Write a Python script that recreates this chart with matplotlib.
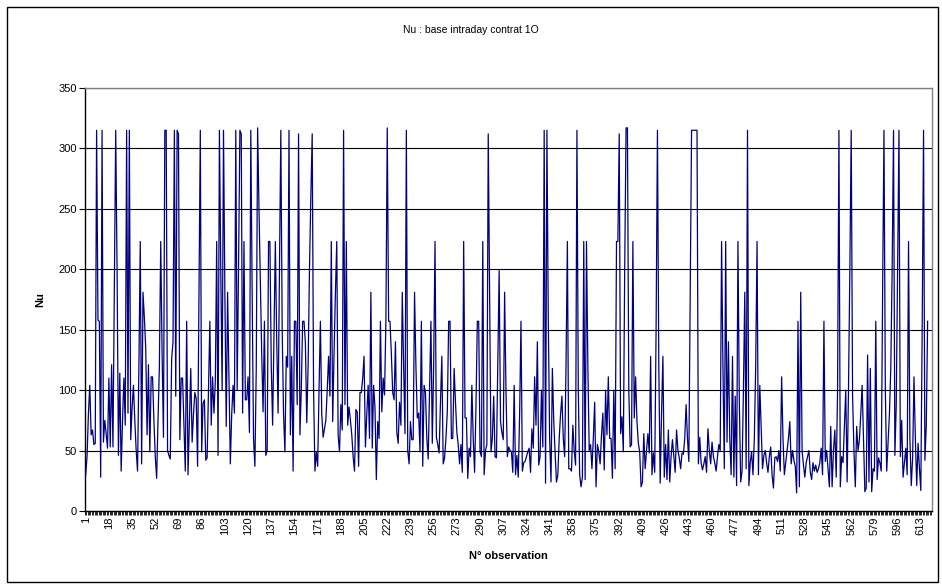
import matplotlib
matplotlib.use("Agg")
import matplotlib.pyplot as plt
import matplotlib.patches as patches
from matplotlib.ticker import FixedLocator

plt.rcParams['font.family'] = ['Liberation Sans', 'DejaVu Sans']

title = "Nu : base intraday contrat 1O"
x_label = "N° observation"
y_label = "Nu"

nu_values = [
    30, 45, 80, 104, 63, 67, 55, 56, 315, 158,
    157, 28, 315, 57, 75, 64, 52, 110, 53, 121,
    53, 180, 315, 200, 46, 114, 33, 75, 110, 71,
    315, 81, 315, 59, 85, 104, 75, 50, 33, 120,
    223, 39, 181, 160, 135, 63, 121, 49, 111, 111,
    75, 45, 27, 75, 119, 223, 130, 61, 315, 315,
    50, 46, 43, 126, 140, 315, 95, 315, 312, 59,
    110, 110, 70, 33, 157, 30, 75, 118, 57, 80,
    98, 93, 37, 180, 315, 49, 89, 92, 42, 44,
    100, 157, 71, 111, 81, 107, 223, 46, 315, 200,
    100, 315, 180, 70, 181, 110, 39, 80, 104, 81,
    315, 100, 200, 315, 312, 81, 223, 92, 92, 111,
    65, 315, 180, 60, 37, 118, 317, 250, 190, 130,
    82, 157, 46, 50, 223, 223, 120, 71, 150, 223,
    140, 81, 200, 315, 150, 80, 49, 128, 119, 315,
    63, 128, 33, 157, 157, 88, 312, 63, 100, 157,
    157, 139, 73, 120, 200, 260, 312, 100, 33, 49,
    37, 100, 157, 80, 61, 68, 75, 100, 128, 95,
    223, 74, 130, 180, 223, 63, 49, 88, 67, 315,
    88, 223, 71, 86, 75, 63, 45, 33, 84, 82,
    37, 98, 98, 110, 128, 53, 80, 104, 60, 181,
    52, 104, 86, 26, 74, 60, 157, 82, 110, 96,
    157, 317, 157, 157, 130, 98, 92, 140, 65, 56,
    90, 71, 181, 120, 64, 315, 50, 39, 74, 59,
    59, 181, 120, 77, 81, 49, 157, 37, 104, 98,
    60, 43, 100, 157, 56, 120, 223, 61, 55, 48,
    90, 128, 39, 44, 60, 82, 157, 157, 60, 60,
    118, 90, 65, 55, 39, 55, 32, 223, 77, 77,
    27, 52, 45, 104, 60, 32, 86, 157, 157, 49,
    45, 223, 30, 50, 55, 312, 180, 49, 60, 95,
    45, 44, 120, 199, 74, 65, 59, 181, 100, 45,
    53, 50, 49, 32, 104, 30, 46, 28, 80, 157,
    33, 40, 41, 45, 49, 52, 32, 68, 52, 111,
    71, 140, 38, 45, 100, 53, 315, 23, 315, 160,
    60, 24, 118, 75, 48, 24, 30, 60, 80, 95,
    60, 45, 120, 223, 35, 35, 33, 71, 50, 38,
    315, 100, 30, 20, 28, 223, 26, 223, 120, 50,
    55, 35, 60, 90, 20, 55, 49, 39, 63, 81,
    34, 100, 63, 111, 60, 60, 27, 100, 35, 223,
    223, 312, 64, 78, 49, 200, 317, 317, 100, 53,
    55, 223, 77, 111, 74, 56, 49, 20, 24, 64,
    35, 50, 64, 48, 128, 30, 48, 32, 150, 315,
    120, 23, 80, 128, 28, 55, 26, 67, 24, 45,
    59, 45, 32, 67, 50, 44, 35, 48, 47, 60,
    88, 60, 41, 180, 315, 315, 315, 315, 315, 39,
    61, 40, 34, 39, 45, 32, 68, 50, 39, 57,
    45, 40, 33, 45, 55, 50, 223, 120, 35, 223,
    57, 140, 60, 30, 128, 28, 95, 21, 223, 90,
    24, 33, 100, 181, 35, 315, 21, 40, 49, 30,
    60, 120, 223, 30, 104, 70, 35, 46, 50, 40,
    32, 45, 53, 30, 19, 44, 45, 41, 50, 33,
    111, 60, 30, 40, 50, 60, 74, 39, 50, 42,
    37, 15, 157, 20, 181, 50, 38, 28, 40, 45,
    50, 32, 26, 40, 33, 38, 32, 35, 40, 52,
    30, 157, 41, 50, 35, 20, 70, 20, 50, 67,
    28, 100, 315, 20, 45, 40, 70, 100, 24, 100,
    200, 315, 95, 50, 20, 70, 50, 59, 80, 104,
    60, 16, 19, 129, 24, 118, 16, 35, 33, 157,
    26, 44, 40, 33, 180, 315, 100, 33, 57, 80,
    118, 200, 315, 46, 88, 200, 315, 45, 75, 28,
    40, 52, 30, 223, 60, 21, 44, 111, 60, 21,
    56, 35, 17, 150, 315, 42, 71, 157,
]

observations = list(range(1, len(nu_values) + 1))
x_tick_labels = list(range(1, 614, 17))
y_ticks = [0, 50, 100, 150, 200, 250, 300, 350]

fig = plt.figure(figsize=(9.42, 5.84), dpi=100)
fig.patch.set_facecolor("white")

# chart-area frame
fig.add_artist(patches.Rectangle((7 / 942, 1 - 582 / 584), 931 / 942, 575 / 584,
                                 transform=fig.transFigure, fill=False,
                                 edgecolor="black", linewidth=1.0))

ax = fig.add_axes([85 / 942, 1 - 511 / 584, 847 / 942, 423 / 584])
ax.plot(observations, nu_values, color="#000080", linewidth=0.9, zorder=3)

ax.set_ylim(0, 350)
ax.set_xlim(0.5, len(nu_values) + 3.2)
ax.set_yticks(y_ticks)
ax.yaxis.grid(True, color="black", linewidth=0.8, zorder=1)
ax.set_axisbelow(True)

ax.set_xticks(x_tick_labels)
ax.set_xticklabels([str(v) for v in x_tick_labels], rotation=90, fontsize=8)
ax.xaxis.set_minor_locator(FixedLocator([i + 0.5 for i in range(0, len(nu_values) + 3)]))
ax.tick_params(axis="x", which="major", length=0, pad=4)
ax.tick_params(axis="x", which="minor", length=3, width=0.6, direction="out")
ax.tick_params(axis="y", which="major", length=4, width=0.8, direction="out", labelsize=8, pad=2)

for side in ("top", "right"):
    ax.spines[side].set_color("#808080")
    ax.spines[side].set_linewidth(1.0)
for side in ("left", "bottom"):
    ax.spines[side].set_color("black")
    ax.spines[side].set_linewidth(1.0)

fig.text(471 / 942, 1 - 30 / 584, title, ha="center", va="center", fontsize=7.5)
fig.text(40 / 942, 1 - 300 / 584, y_label, ha="center", va="center", rotation=90,
         fontsize=8, fontweight="bold")
fig.text(508 / 942, 1 - 556 / 584, x_label, ha="center", va="center",
         fontsize=8, fontweight="bold")

fig.savefig("out.png", dpi=100)
